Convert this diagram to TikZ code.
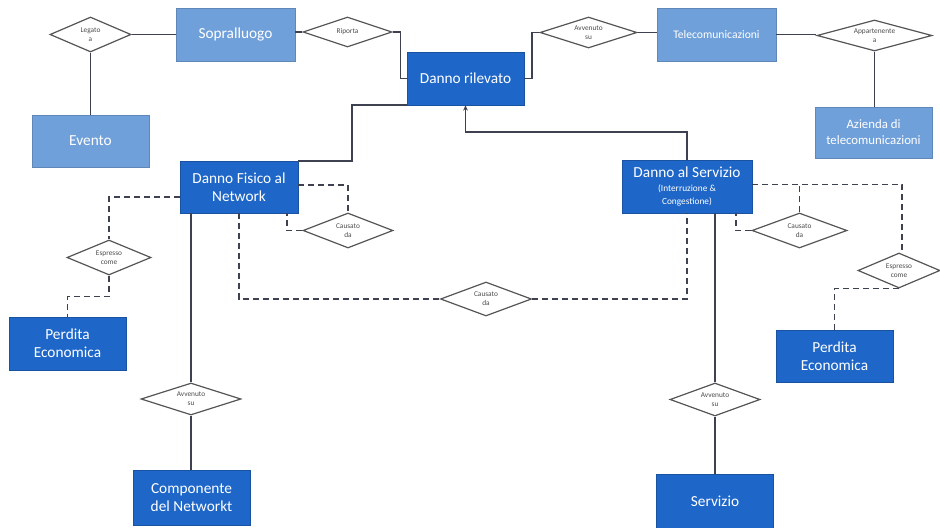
\documentclass[tikz,border=0pt]{standalone}
\usepackage{fontspec}
\setmainfont{Carlito}
\usetikzlibrary{shapes.geometric,arrows.meta}
\definecolor{lightbox}{RGB}{112,160,218}
\definecolor{darkbox}{RGB}{30,102,200}
\definecolor{conn}{RGB}{62,66,80}
\definecolor{dborder}{RGB}{85,85,85}
\tikzset{
  ebase/.style={rectangle, text=white, align=center, inner sep=1pt, font=\fontsize{11.5}{13.5}\selectfont},
  lbox/.style={ebase, fill=lightbox, draw=lightbox!85!black, line width=0.4pt},
  dbox/.style={ebase, fill=darkbox, draw=darkbox!80!black, line width=0.4pt},
  rel/.style={diamond, shape aspect=3.5, draw=dborder, fill=white, line width=0.9pt, inner sep=0pt, align=center, text=black!70, font=\fontsize{5.5}{6.8}\selectfont},
  sol/.style={draw=conn, line width=1.3pt},
  dsh/.style={draw=conn, line width=1.3pt, dash pattern=on 4.5pt off 3pt},
}
\begin{document}
\begin{tikzpicture}[x=0.75pt,y=-0.75pt]
\path[use as bounding box, fill=white] (0,0) rectangle (940,528);
% entities
\node[lbox, minimum width=89.25pt, minimum height=39.75pt] (sop) at (235.5,34.5) {Sopralluogo};
\node[lbox, minimum width=87.75pt, minimum height=39pt] (eve) at (90.5,141) {Evento};
\node[lbox, minimum width=89.25pt, minimum height=39.75pt, font=\fontsize{8.7}{10.5}\selectfont] (tel) at (716.5,34.5) {Telecomunicazioni};
\node[lbox, minimum width=87.75pt, minimum height=38.25pt, font=\fontsize{9.6}{12}\selectfont] (az) at (873.5,132.5) {Azienda di\\telecomunicazioni};
\node[dbox, minimum width=87.75pt, minimum height=39.75pt] (dr) at (465.5,78.5) {Danno rilevato};
\node[dbox, minimum width=88.5pt, minimum height=39pt] (dfn) at (239,187) {Danno Fisico al\\Network};
\node[dbox, minimum width=97.5pt, minimum height=39.75pt] (ds) at (687,186.5) {Danno al Servizio\\[-3.5pt]{\fontsize{7}{8}\selectfont (Interruzione \&}\\[-3.5pt]{\fontsize{7}{8}\selectfont Congestione)}};
\node[dbox, minimum width=87.75pt, minimum height=39.75pt] (pe1) at (67.5,343.5) {Perdita\\Economica};
\node[dbox, minimum width=87.75pt, minimum height=39pt] (pe2) at (834.5,356) {Perdita\\Economica};
\node[dbox, minimum width=87.75pt, minimum height=41.25pt] (comp) at (191.5,497.5) {Componente\\del Networkt};
\node[dbox, minimum width=87.75pt, minimum height=40.5pt] (serv) at (715,501) {Servizio};
% relationships
\node[rel, minimum width=60.75pt, minimum height=26.25pt] (d1) at (90.5,34.5) {Legato\\a};
\node[rel, minimum width=66.75pt, minimum height=22.5pt] (d2) at (347.5,32) {Riporta};
\node[rel, minimum width=72.75pt, minimum height=23.25pt] (d3) at (588.5,32.5) {Avvenuto\\su};
\node[rel, minimum width=86.25pt, minimum height=23.25pt] (d4) at (874.5,35.5) {Appartenente\\a};
\node[rel, minimum width=67.5pt, minimum height=26.25pt] (d5) at (348,230.5) {Causato\\da};
\node[rel, minimum width=63pt, minimum height=26.25pt] (d6) at (109,257.5) {Espresso\\come};
\node[rel, minimum width=71.25pt, minimum height=26.25pt] (d7) at (799.5,230.5) {Causato\\da};
\node[rel, minimum width=61.5pt, minimum height=26.25pt] (d8) at (899,270.5) {Espresso\\come};
\node[rel, minimum width=68.25pt, minimum height=25.5pt] (d9) at (486,299) {Causato\\da};
\node[rel, minimum width=75pt, minimum height=24pt] (d10) at (191,399) {Avvenuto\\su};
\node[rel, minimum width=67.5pt, minimum height=24.75pt] (d11) at (715,399.5) {Avvenuto\\su};
% solid connectors
\draw[sol] (d1.east) -- (sop.west);
\draw[sol] (d1.south) -- (eve.north);
\draw[sol] (d2.west) -- (d2.west -| sop.east);
\draw[sol] (d2.east) -- ++(8,0) |- (dr.west);
\draw[sol] (dr.east) -- ++(8,0) |- (d3.west);
\draw[sol] (d3.east) -- (d3.east -| tel.west);
\draw[sol] (tel.east) -- (tel.east -| d4.west);
\draw[sol] (d4.south) -- (d4.south |- az.north);
\draw[sol] (dfn.north east) -- ++(54,0) |- (dr.south west);
\draw[sol, -{Stealth[length=4pt,width=3.5pt]}] (ds.north) -- ++(0,-28) -| (dr.south);
\draw[sol] (d10.north) -- (d10.north |- dfn.south);
\draw[sol] (d10.south) -- (d10.south |- comp.north);
\draw[sol] (d11.north) -- (d11.north |- ds.south);
\draw[sol] (d11.south) -- (serv.north);
% dashed connectors
\coordinate (dfl) at ([yshift=-7.5pt]dfn.west);
\coordinate (dfr) at ([yshift=1.5pt]dfn.east);
\coordinate (dsr) at ([yshift=1.5pt]ds.east);
\draw[dsh] (dfl) -| (d6.north);
\draw[dsh] (d6.south) -- ++(0,21) -| (pe1.north);
\draw[dsh] (dfr) -| (d5.north);
\draw[dsh] (d5.west) -| ([xshift=-8.25pt]dfn.south east);
\draw[dsh] (dfn.south) |- (d9.west);
\draw[dsh] (d9.east) -| (ds.south);
\draw[dsh] (dsr) -| ([xshift=2.5pt]d8.north);
\draw[dsh] (d7.north) -- (d7.north |- dsr);
\draw[dsh] (d7.west) -| ([xshift=-12pt]ds.south east);
\draw[dsh] (d8.south) -| (pe2.north);
\end{tikzpicture}
\end{document}
